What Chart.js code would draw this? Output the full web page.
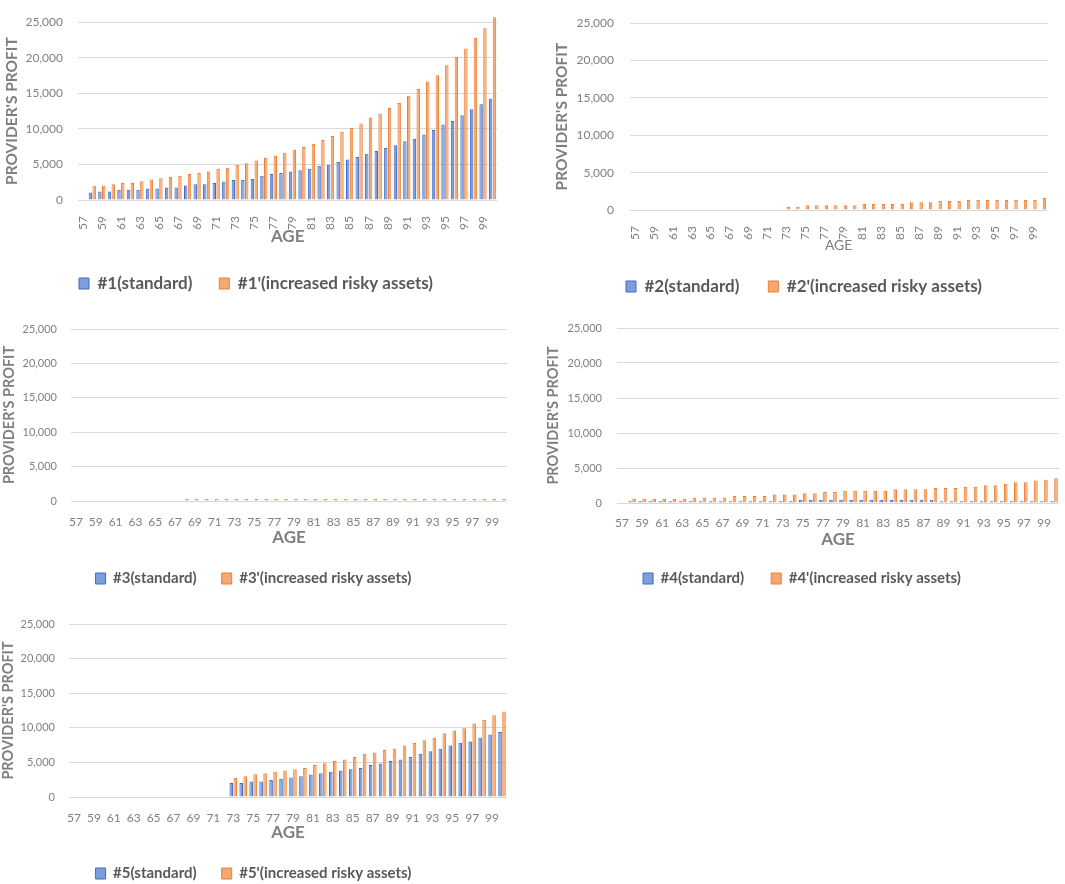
<!DOCTYPE html>
<html>
<head>
<meta charset="utf-8">
<title>Provider's profit by age</title>
<script src="https://cdn.jsdelivr.net/npm/chart.js@4.4.1/dist/chart.umd.min.js"></script>
<style>
    html, body { margin: 0; padding: 0; background: #fff; }
    #page { position: relative; width: 1065px; height: 884px; overflow: hidden; }
    .box { position: absolute; }
</style>
</head>
<body>
<div id="page">
    <div class="box" style="left:0;top:0;width:515px;height:302px"><canvas id="chart1"></canvas></div>
    <div class="box" style="left:545px;top:0;width:520px;height:305px"><canvas id="chart2"></canvas></div>
    <div class="box" style="left:0;top:305px;width:515px;height:295px"><canvas id="chart3"></canvas></div>
    <div class="box" style="left:545px;top:305px;width:520px;height:295px"><canvas id="chart4"></canvas></div>
    <div class="box" style="left:0;top:600px;width:515px;height:291px"><canvas id="chart5"></canvas></div>
</div>
<script>
// Ages on the x axis
const ages = [57, 58, 59, 60, 61, 62, 63, 64, 65, 66, 67, 68, 69, 70, 71, 72, 73, 74, 75, 76, 77, 78,
              79, 80, 81, 82, 83, 84, 85, 86, 87, 88, 89, 90, 91, 92, 93, 94, 95, 96, 97, 98, 99, 100];

const yTicks = [0, 5000, 10000, 15000, 20000, 25000];

// #1
const case1Standard = [null, 1050, 1200, 1200, 1450, 1450, 1450, 1600, 1600, 1750, 1750, 2050, 2200, 2200,
    2400, 2600, 2800, 2800, 2950, 3400, 3650, 3800, 4000, 4200, 4400, 4800, 4950, 5350, 5700, 6050, 6500,
    6900, 7300, 7700, 8250, 8600, 9200, 9850, 10600, 11100, 11900, 12750, 13450, 14250];
const case1Risky = [null, 2000, 2000, 2200, 2400, 2400, 2650, 2900, 3050, 3250, 3400, 3650, 3800, 4000,
    4400, 4550, 4950, 5150, 5550, 5950, 6250, 6650, 7050, 7450, 7900, 8450, 9000, 9600, 10150, 10750, 11600,
    12150, 12950, 13650, 14650, 15600, 16650, 17550, 18950, 20100, 21300, 22800, 24150, 25700];

// #2
const case2Standard = [0, 0, 0, 0, 0, 0, 0, 0, 0, 0, 0, 0, 0, 0, 0, 0, 0, 0, 0, 0, 0, 0,
    0, 0, 0, 0, 0, 0, 0, 0, 0, 0, 0, 0, 0, 0, 0, 0, 0, 0, 0, 0, 0, 0];
const case2Risky = [0, 0, 0, 0, 0, 0, 0, 0, 0, 0, 0, 0, 0, 0, 0, 0, 420, 420, 630, 630, 630, 630,
    630, 630, 800, 800, 800, 800, 800, 1050, 1050, 1050, 1220, 1220, 1220, 1350, 1350, 1350, 1350, 1350,
    1350, 1350, 1350, 1600];

// #3
const case3Standard = [0, 0, 0, 0, 0, 0, 0, 0, 0, 0, 0, 0, 0, 0, 0, 0, 0, 0, 0, 0, 0, 0,
    0, 0, 0, 0, 0, 0, 0, 0, 0, 0, 0, 0, 0, 0, 0, 0, 0, 0, 0, 0, 0, 0];
const case3Risky = [0, 0, 0, 0, 0, 0, 0, 0, 0, 0, 0, 280, 280, 280, 280, 280, 280, 280, 280, 280, 280, 280,
    280, 280, 280, 280, 280, 280, 280, 280, 280, 280, 280, 280, 280, 280, 280, 280, 280, 280, 280, 280, 280, 280];

// #4
const case4Standard = [null, 250, 250, 250, 250, 250, 250, 250, 250, 250, 250, 250, 250, 250, 250, 250,
    250, 250, 450, 450, 450, 450, 450, 450, 450, 450, 450, 450, 450, 450, 450, 450, 250, 250, 250, 250,
    250, 250, 250, 250, 250, 250, 250, 250];
const case4Risky = [null, 620, 620, 620, 620, 620, 620, 800, 800, 800, 800, 1000, 1000, 1000, 1000, 1200,
    1200, 1200, 1380, 1380, 1570, 1570, 1760, 1760, 1760, 1760, 1760, 1950, 1950, 1950, 1950, 2140, 2140,
    2140, 2330, 2330, 2520, 2520, 2760, 2950, 2950, 3200, 3330, 3520];

// #5
const case5Standard = [0, 0, 0, 0, 0, 0, 0, 0, 0, 0, 0, 0, 0, 0, 0, 0, 2030, 2030, 2250, 2250, 2440, 2640,
    2800, 3000, 3240, 3430, 3650, 3820, 4000, 4200, 4640, 4840, 5220, 5420, 5780, 6240, 6610, 6980, 7450,
    7830, 8030, 8580, 9040, 9400];
const case5Risky = [0, 0, 0, 0, 0, 0, 0, 0, 0, 0, 0, 0, 0, 0, 0, 0, 2780, 3000, 3290, 3450, 3650, 3820,
    4000, 4200, 4640, 4860, 5220, 5420, 5780, 6240, 6430, 6790, 7000, 7450, 7800, 8210, 8580, 9210, 9600,
    9950, 10610, 11150, 11830, 12370];

const BLUE_LINE = '#3f6cc4';
const BLUE_FILL = '#7d9ddd';
const ORANGE_LINE = '#ed7d31';
const ORANGE_FILL = '#f5a872';

Chart.defaults.font.family = 'Lato, "Open Sans", sans-serif';

function buildChart(id, series, o) {
    const ctx = document.getElementById(id);
    return new Chart(ctx, {
        type: 'bar',
        data: {
            labels: ages,
            datasets: [{
                label: series.names[0],
                data: series.standard,
                backgroundColor: BLUE_FILL,
                borderColor: BLUE_LINE,
                borderWidth: 1,
                categoryPercentage: 0.8,
                barPercentage: 0.9,
                clip: false
            }, {
                label: series.names[1],
                data: series.risky,
                backgroundColor: ORANGE_FILL,
                borderColor: ORANGE_LINE,
                borderWidth: 1,
                categoryPercentage: 0.8,
                barPercentage: 0.9,
                clip: false
            }]
        },
        options: {
            responsive: true,
            maintainAspectRatio: false,
            animation: false,
            layout: { padding: o.pad },
            plugins: {
                legend: {
                    position: 'bottom',
                    labels: {
                        boxWidth: 10,
                        boxHeight: 11,
                        padding: o.legendGap,
                        color: '#595959',
                        font: { size: o.legendSize, weight: 'bold' }
                    }
                },
                tooltip: { enabled: false }
            },
            scales: {
                x: {
                    grid: { display: false },
                    border: { display: false },
                    ticks: {
                        autoSkip: false,
                        maxRotation: o.rotation,
                        minRotation: o.rotation,
                        padding: o.xTickPad,
                        color: '#808080',
                        font: { size: o.xTickSize },
                        callback: (value, index) => index % 2 === 0 ? ages[index] : ''
                    },
                    title: {
                        display: true,
                        text: 'AGE',
                        color: '#7f7f7f',
                        font: { size: o.xTitleSize, weight: o.xTitleWeight },
                        padding: { top: 0, bottom: o.xTitlePad }
                    },
                    afterFit: (scale) => { scale.height = o.xHeight; }
                },
                y: {
                    min: yTicks[0],
                    max: yTicks[yTicks.length - 1],
                    grid: { color: '#d9d9d9', drawTicks: false },
                    border: { display: false },
                    afterBuildTicks: (scale) => { scale.ticks = yTicks.map(v => ({ value: v })); },
                    ticks: {
                        padding: o.yTickPad,
                        color: '#808080',
                        font: { size: o.yTickSize },
                        callback: (value) => value.toLocaleString('en-US')
                    },
                    title: {
                        display: true,
                        text: "PROVIDER'S PROFIT",
                        color: '#7f7f7f',
                        font: { size: o.yTitleSize, weight: 'bold' },
                        padding: { top: o.yTitlePad, bottom: 0 }
                    },
                    afterFit: (scale) => { scale.width = o.yWidth; }
                }
            }
        }
    });
}

buildChart('chart1',
    { names: ['#1(standard)', "#1'(increased risky assets)"], standard: case1Standard, risky: case1Risky },
    { pad: { top: 7, right: 3, bottom: 0, left: 0 }, yWidth: 78, xHeight: 48, rotation: 90, xTickPad: 8,
      yTickPad: 15, xTickSize: 12, yTickSize: 12, yTitleSize: 15.5, yTitlePad: 3, xTitleSize: 17,
      xTitleWeight: 'bold', xTitlePad: 1, legendSize: 17, legendGap: 27 });

buildChart('chart2',
    { names: ['#2(standard)', "#2'(increased risky assets)"], standard: case2Standard, risky: case2Risky },
    { pad: { top: 13, right: 2, bottom: 0, left: 0 }, yWidth: 85, xHeight: 39, rotation: 90, xTickPad: 8,
      yTickPad: 16, xTickSize: 12, yTickSize: 12, yTitleSize: 15.5, yTitlePad: 8, xTitleSize: 14,
      xTitleWeight: 'normal', xTitlePad: -5, legendSize: 17, legendGap: 29 });

buildChart('chart3',
    { names: ['#3(standard)', "#3'(increased risky assets)"], standard: case3Standard, risky: case3Risky },
    { pad: { top: 24, right: 8, bottom: 4, left: 0 }, yWidth: 71, xHeight: 45, rotation: 0, xTickPad: 6,
      yTickPad: 14, xTickSize: 12, yTickSize: 11, yTitleSize: 14.5, yTitlePad: 1, xTitleSize: 17,
      xTitleWeight: 'bold', xTitlePad: -2, legendSize: 15, legendGap: 25 });

buildChart('chart4',
    { names: ['#4(standard)', "#4'(increased risky assets)"], standard: case4Standard, risky: case4Risky },
    { pad: { top: 23, right: 6, bottom: 4, left: 0 }, yWidth: 72, xHeight: 41, rotation: 0, xTickPad: 5,
      yTickPad: 15, xTickSize: 12, yTickSize: 11, yTitleSize: 14.5, yTitlePad: 0, xTitleSize: 17,
      xTitleWeight: 'bold', xTitlePad: -6, legendSize: 15, legendGap: 27 });

buildChart('chart5',
    { names: ['#5(standard)', "#5'(increased risky assets)"], standard: case5Standard, risky: case5Risky },
    { pad: { top: 24, right: 8, bottom: 0, left: 0 }, yWidth: 69, xHeight: 44, rotation: 0, xTickPad: 6,
      yTickPad: 14, xTickSize: 12, yTickSize: 11, yTitleSize: 14.5, yTitlePad: 0, xTitleSize: 17,
      xTitleWeight: 'bold', xTitlePad: -2, legendSize: 15, legendGap: 25 });
</script>
</body>
</html>
